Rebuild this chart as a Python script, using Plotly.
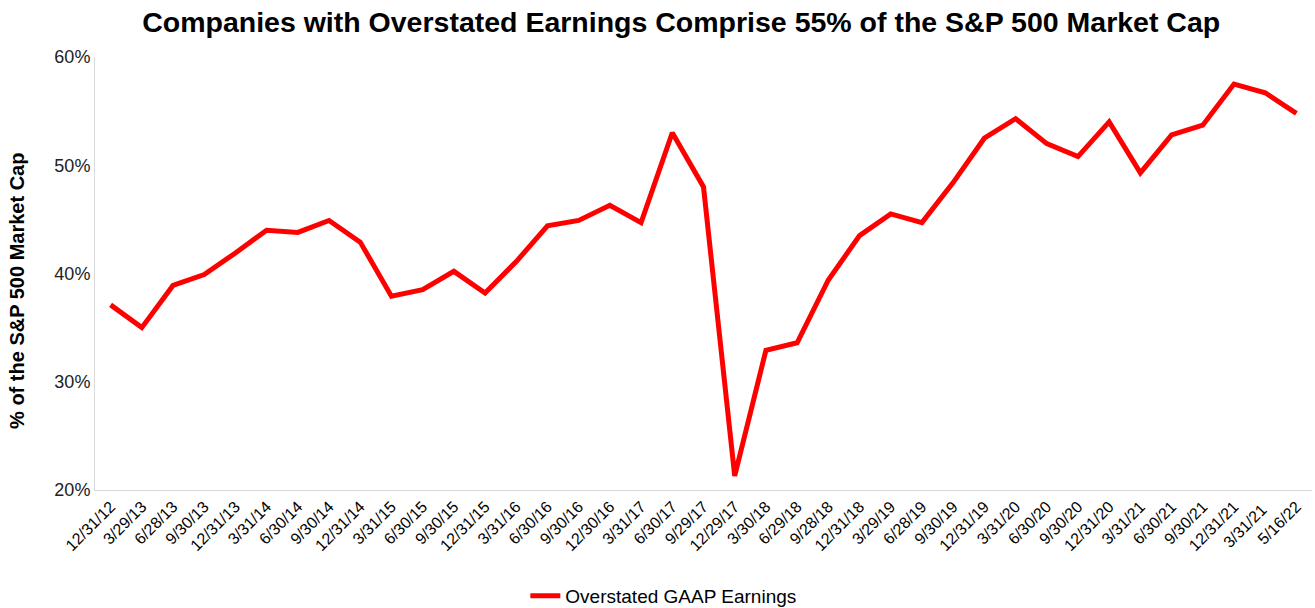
import plotly.graph_objects as go

dates = [
    "12/31/12", "3/29/13", "6/28/13", "9/30/13", "12/31/13", "3/31/14", "6/30/14",
    "9/30/14", "12/31/14", "3/31/15", "6/30/15", "9/30/15", "12/31/15", "3/31/16",
    "6/30/16", "9/30/16", "12/30/16", "3/31/17", "6/30/17", "9/29/17", "12/29/17",
    "3/30/18", "6/29/18", "9/28/18", "12/31/18", "3/29/19", "6/28/19", "9/30/19",
    "12/31/19", "3/31/20", "6/30/20", "9/30/20", "12/31/20", "3/31/21", "6/30/21",
    "9/30/21", "12/31/21", "3/31/21 ", "5/16/22",
]
overstated_pct = [
    37.1, 35.0, 38.9, 39.9, 41.9, 44.0, 43.8,
    44.9, 42.9, 37.9, 38.5, 40.2, 38.2, 41.1,
    44.4, 44.9, 46.3, 44.7, 53.0, 48.0, 21.3,
    32.9, 33.6, 39.4, 43.5, 45.5, 44.7, 48.4,
    52.5, 54.3, 52.0, 50.8, 54.0, 49.3, 52.8,
    53.7, 57.5, 56.7, 54.8,
]
y_ticks = [20, 30, 40, 50, 60]
y_labels = ["20%", "30%", "40%", "50%", "60%"]

font = "Liberation Sans, Arial, sans-serif"

fig = go.Figure()
fig.add_trace(go.Scatter(
    x=dates,
    y=overstated_pct,
    mode="lines",
    name="Overstated GAAP Earnings",
    line=dict(color="#FF0000", width=5),
))

fig.update_layout(
    width=1315,
    height=608,
    margin=dict(l=95, r=3, t=57, b=118),
    paper_bgcolor="white",
    plot_bgcolor="white",
    font=dict(family=font, color="#000000"),
    title=dict(
        text="<b>Companies with Overstated Earnings Comprise 55% of the S&P 500 Market Cap</b>",
        x=0.518, xanchor="center", y=0.964, yanchor="middle",
        font=dict(size=28.5, family=font, color="#000000"),
        automargin=False,
    ),
    xaxis=dict(
        type="category",
        range=[-0.5, len(dates) - 0.5],
        tickangle=-45,
        tickfont=dict(size=16),
        showgrid=False,
        showline=True,
        linecolor="#D9D9D9",
        linewidth=1,
        ticks="",
        automargin=False,
    ),
    yaxis=dict(
        range=[20, 60],
        tickvals=y_ticks,
        ticktext=y_labels,
        tickfont=dict(size=18, color="#222222"),
        showgrid=False,
        showline=True,
        linecolor="#D9D9D9",
        linewidth=1,
        zeroline=False,
        ticks="",
        ticklen=0,
        automargin=False,
    ),
    showlegend=True,
    legend=dict(
        orientation="h",
        x=0.467, xanchor="center",
        yref="container",
        y=0.02, yanchor="middle",
        font=dict(size=19),
    ),
)

fig.add_annotation(
    text="<b>% of the S&P 500 Market Cap</b>",
    xref="paper", yref="paper",
    x=-0.064, y=0.46,
    xanchor="center", yanchor="middle",
    textangle=-90,
    showarrow=False,
    font=dict(size=20, family=font, color="#000000"),
)

# drop the page's default body margin so the figure sits at the window corner
fig.write_html(
    "out.html",
    config={"displayModeBar": False},
    post_script="document.body.style.margin = '0';",
)
